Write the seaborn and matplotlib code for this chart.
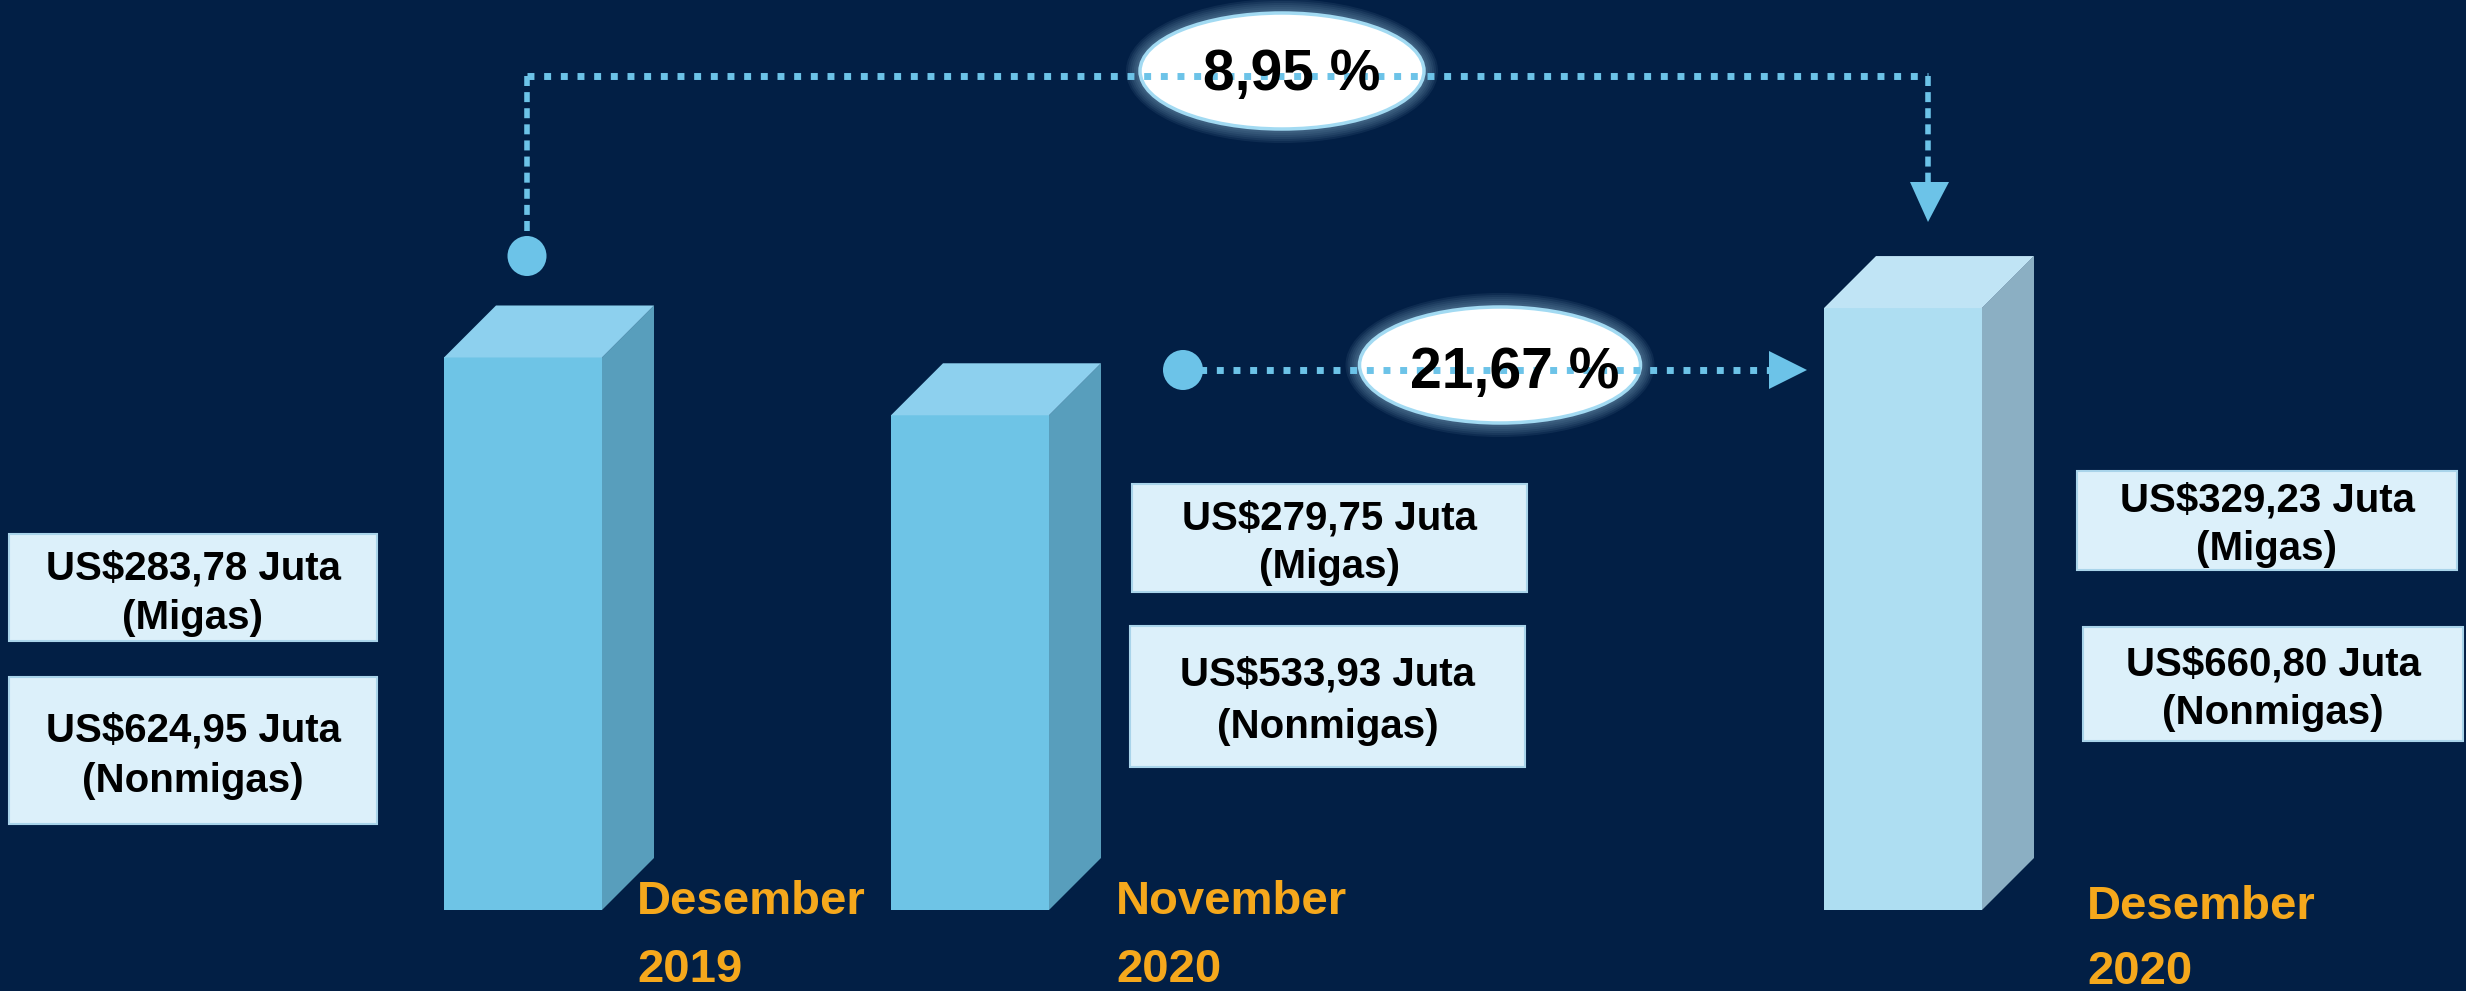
import numpy as np
import pandas as pd
import matplotlib.pyplot as plt
from matplotlib.patches import Polygon, Ellipse, Rectangle
import seaborn as sns

# data
periods = ['Desember 2019', 'November 2020', 'Desember 2020']
migas = [283.78, 279.75, 329.23]
nonmigas = [624.95, 533.93, 660.80]

totals = [m + n for m, n in zip(migas, nonmigas)]
yoy = (totals[2] - totals[0]) / totals[0] * 100
mom = (totals[2] - totals[1]) / totals[1] * 100


def rupiah(v):
    return 'US$' + f'{v:.2f}'.replace('.', ',') + ' Juta'


def pct(v):
    return f'{v:.2f}'.replace('.', ',') + ' %'


# layout (pixels of the 2466x991 canvas)
W, H = 2466, 991
BASE = 910
PX_PER_UNIT = 0.608
bar_x = [523, 970, 1903]
BAR_W = 158
DEPTH = 52

BG = '#021F45'
front_cols = ['#6EC4E6', '#6EC4E6', '#AEDEF2']
side_cols = ['#589EBC', '#589EBC', '#8BAFC3']
top_cols = ['#8DD0EE', '#8DD0EE', '#C0E4F5']
LINE = '#6CC3E8'
ORANGE = '#F5A81C'

sns.set_theme(style='white')
plt.rcParams['font.family'] = ['Liberation Sans', 'DejaVu Sans']

fig = plt.figure(figsize=(W / 100, H / 100), dpi=100, facecolor=BG)
ax = fig.add_axes([0, 0, 1, 1])
ax.set_facecolor(BG)

df = pd.DataFrame({'period': periods, 'total': totals, 'x': bar_x})
spacing = np.diff(sorted(bar_x)).min()
sns.barplot(data=df, x='x', y='total', native_scale=True, width=BAR_W / spacing,
            color=front_cols[0], saturation=1, errorbar=None, ax=ax)

ax.set_xlim(0, W)
ax.set_ylim(-(H - BASE) / PX_PER_UNIT, BASE / PX_PER_UNIT)
ax.axis('off')

dy = DEPTH / PX_PER_UNIT
for p, fc, sc, tc in zip(ax.patches[:3], front_cols, side_cols, top_cols):
    p.set_facecolor(fc)
    p.set_edgecolor('none')
    x0, w, h = p.get_x(), p.get_width(), p.get_height()
    side = [(x0 + w, 0), (x0 + w + DEPTH, dy), (x0 + w + DEPTH, h + dy), (x0 + w, h)]
    top = [(x0, h), (x0 + DEPTH, h + dy), (x0 + w + DEPTH, h + dy), (x0 + w, h)]
    ax.add_patch(Polygon(side, closed=True, facecolor=sc, edgecolor='none'))
    ax.add_patch(Polygon(top, closed=True, facecolor=tc, edgecolor='none'))

# overlay in pixel coordinates
ov = fig.add_axes([0, 0, 1, 1])
ov.set_xlim(0, W)
ov.set_ylim(H, 0)
ov.axis('off')
ov.patch.set_alpha(0)

# value boxes
boxes = [((9, 534, 368, 107), (9, 677, 368, 147)),
         ((1132, 484, 395, 108), (1130, 626, 395, 141)),
         ((2077, 471, 380, 99), (2083, 627, 380, 114))]
base_lines = [((579, 629), (742, 792)),
              ((529, 578), (686, 738)),
              ((512, 560), (676, 724))]
for i in range(3):
    texts = [(rupiah(migas[i]), '(Migas)'), (rupiah(nonmigas[i]), '(Nonmigas)')]
    for (bx, by, bw, bh), (b1, b2), (t1, t2) in zip(boxes[i], base_lines[i], texts):
        ov.add_patch(Rectangle((bx, by), bw, bh, facecolor='#DCF0FA',
                               edgecolor='#A9D4EA', lw=1.5))
        cx = bx + bw / 2
        ov.text(cx, b1, t1, ha='center', va='baseline', fontsize=29,
                fontweight='bold', color='black')
        ov.text(cx, b2, t2, ha='center', va='baseline', fontsize=29,
                fontweight='bold', color='black')

# period labels
label_pos = [(637, 914, 982), (1116, 914, 982), (2087, 919, 984)]
for name, (lx, l1, l2) in zip(periods, label_pos):
    word, year = name.split(' ')
    ov.text(lx, l1, word, ha='left', va='baseline', fontsize=34,
            fontweight='bold', color=ORANGE)
    ov.text(lx, l2, year, ha='left', va='baseline', fontsize=34,
            fontweight='bold', color=ORANGE)

# connector lines
dot_style = dict(color=LINE, lw=5, linestyle=(0, (1, 1.4)), dash_capstyle='butt')
dash_style = dict(color=LINE, lw=4, linestyle=(0, (1.8, 1.1)), dash_capstyle='butt')
ov.plot([527, 1928], [76, 76], **dot_style)
ov.plot([527, 527], [76, 236], **dash_style)
ov.plot([1928, 1928], [76, 184], **dash_style)
ov.add_patch(Polygon([(1910, 182), (1949, 182), (1928, 222)], facecolor=LINE,
                     edgecolor='none'))
ov.add_patch(Ellipse((527, 256), 39, 40, facecolor=LINE, edgecolor='none'))

ov.plot([1183, 1770], [370, 370], **dot_style)
ov.add_patch(Polygon([(1769, 351), (1769, 389), (1807, 370)], facecolor=LINE,
                     edgecolor='none'))
ov.add_patch(Ellipse((1183, 370), 40, 40, facecolor=LINE, edgecolor='none'))

# growth bubbles
bubbles = [((1282, 71), 284, 116, (1292, 90), pct(yoy)),
           ((1500, 365), 281, 116, (1515, 388), pct(mom))]
for (cx, cy), ew, eh, (tx, tb), lab in bubbles:
    for k in range(7, 0, -1):
        ov.add_patch(Ellipse((cx, cy), ew + 4 * k, eh + 4 * k, facecolor='#8FB8D2',
                             edgecolor='none', alpha=0.09))
    ov.add_patch(Ellipse((cx, cy), ew, eh, facecolor='white', edgecolor='#A2DAF2',
                         lw=2.5))
    ov.text(tx, tb, lab, ha='center', va='baseline', fontsize=41,
            fontweight='bold', color='black')

fig.savefig('out.png', dpi=100, facecolor=BG)
